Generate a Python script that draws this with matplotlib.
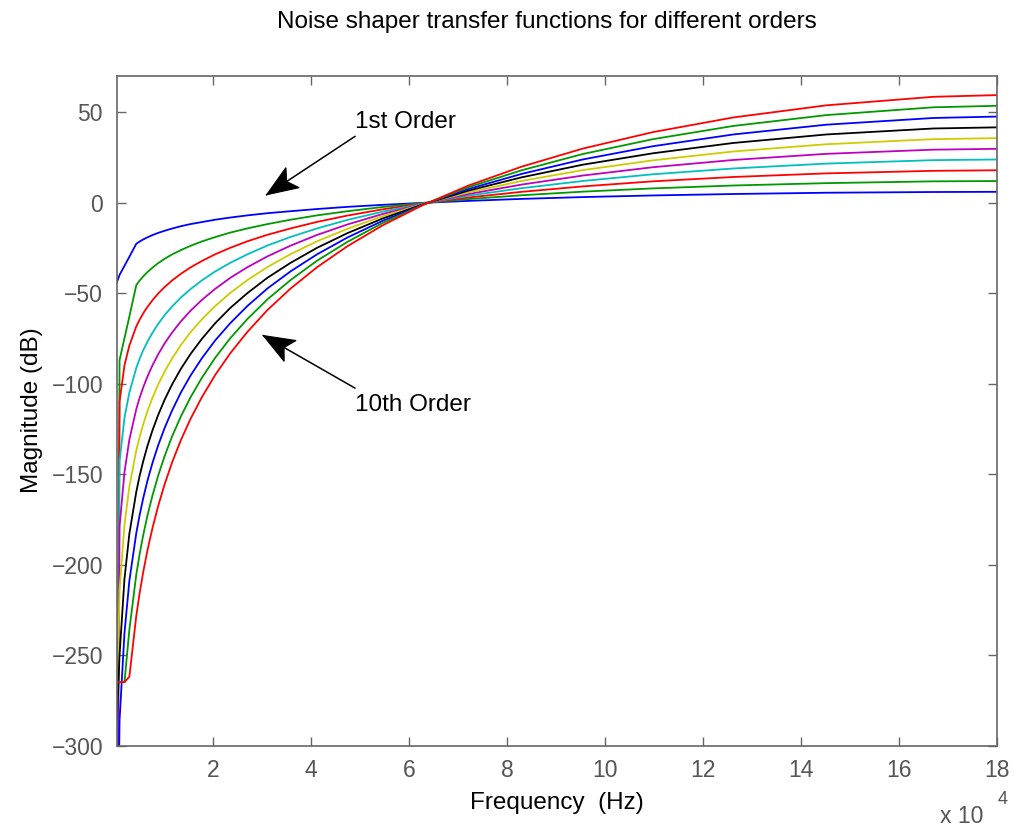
import matplotlib
matplotlib.use('Agg')
import matplotlib.pyplot as plt
from matplotlib.patches import Polygon
import numpy as np

plt.rcParams['font.family'] = ['Liberation Sans', 'DejaVu Sans']

# frequency points, in units of 1e4 Hz
freq = [0.047, 0.10, 0.20, 0.30, 0.441, 0.507, 0.583, 0.671, 0.771, 0.887, 1.02,
        1.17, 1.35, 1.55, 1.78, 2.05, 2.36, 2.71, 3.12, 3.59, 4.13, 4.75, 5.46,
        6.28, 7.22, 8.30, 9.55, 10.98, 12.62, 14.52, 16.70, 19.2]

# magnitude (dB) for each noise shaper order
order1 = [-44, -40, -35, -30, -22.8, -21.6, -20.4, -19.2, -18.0, -16.8, -15.6, -14.4,
          -13.1, -11.9, -10.8, -9.5, -8.3, -7.1, -5.9, -4.8, -3.6, -2.4, -1.3, -0.2,
          0.9, 2.0, 3.0, 3.9, 4.7, 5.4, 5.8, 6.0]
order2 = [-400, -87, -75, -63, -45.7, -43.2, -40.8, -38.4, -36.0, -33.5, -31.1, -28.7,
          -26.3, -23.9, -21.5, -19.1, -16.6, -14.3, -11.9, -9.5, -7.1, -4.8, -2.5, -0.3,
          1.9, 4.0, 6.0, 7.8, 9.4, 10.7, 11.7, 12.0]
order3 = [-400, -110, -90, -79, -68.5, -64.9, -61.2, -57.6, -54.0, -50.3, -46.7, -43.1,
          -39.4, -35.8, -32.3, -28.6, -25.0, -21.4, -17.8, -14.3, -10.7, -7.2, -3.8, -0.5,
          2.8, 5.9, 8.9, 11.7, 14.1, 16.1, 17.5, 18.1]
order4 = [-400, -143, -119, -105, -91.4, -86.5, -81.6, -76.8, -72.0, -67.1, -62.2, -57.5,
          -52.5, -47.8, -43.0, -38.1, -33.3, -28.6, -23.7, -19.0, -14.3, -9.6, -5.1, -0.6,
          3.8, 7.9, 11.9, 15.6, 18.8, 21.5, 23.4, 24.1]
order5 = [-400, -179, -149, -131, -114.2, -108.1, -102.1, -96.0, -90.0, -83.9, -77.8, -71.9,
          -65.7, -59.7, -53.8, -47.7, -41.6, -35.7, -29.7, -23.8, -17.9, -12.1, -6.4, -0.8,
          4.7, 9.9, 14.9, 19.5, 23.5, 26.9, 29.2, 30.1]
order6 = [-280, -214, -178, -157, -137.0, -129.7, -122.5, -115.1, -107.9, -100.6, -93.4, -86.2,
          -78.8, -71.6, -64.5, -57.2, -49.9, -42.8, -35.6, -28.5, -21.4, -14.5, -7.6, -0.9,
          5.6, 11.9, 17.9, 23.3, 28.2, 32.2, 35.0, 36.1]
order7 = [-285, -250, -208, -183, -159.9, -151.3, -142.9, -134.3, -125.9, -117.4, -108.9, -100.6,
          -91.9, -83.6, -75.3, -66.7, -58.2, -50.0, -41.5, -33.3, -25.0, -16.9, -8.9, -1.1,
          6.6, 13.9, 20.9, 27.2, 32.9, 37.6, 40.9, 42.1]
order8 = [-400, -286, -238, -209, -182.7, -173.0, -163.3, -153.5, -143.9, -134.2, -124.5, -115.0,
          -105.0, -95.5, -86.0, -76.2, -66.6, -57.1, -47.4, -38.0, -28.6, -19.3, -10.2, -1.2,
          7.5, 15.8, 23.8, 31.1, 37.6, 43.0, 46.7, 48.2]
order9 = [-265, -265, -265, -236, -205.6, -194.6, -183.7, -172.7, -161.9, -150.9, -140.0, -129.3,
          -118.2, -107.5, -96.8, -85.8, -74.9, -64.3, -53.4, -42.8, -32.1, -21.7, -11.4, -1.4,
          8.5, 17.8, 26.8, 35.0, 42.3, 48.3, 52.6, 54.2]
order10 = [-265, -265, -265, -262, -228.4, -216.2, -204.1, -191.9, -179.9, -167.7, -155.6, -143.7,
           -131.3, -119.4, -107.5, -95.3, -83.2, -71.4, -59.3, -47.5, -35.7, -24.1, -12.7, -1.5,
           9.4, 19.8, 29.8, 38.9, 47.0, 53.7, 58.4, 60.2]

orders = [order1, order2, order3, order4, order5, order6, order7, order8, order9, order10]

# MATLAB default colour order, cycled
colors = [(0, 0, 1), (0, 0.6, 0), (1, 0, 0), (0, 0.75, 0.75), (0.75, 0, 0.75),
          (0.8, 0.8, 0), (0, 0, 0)]

fig = plt.figure(figsize=(10.17, 8.33), dpi=100)
ax = fig.add_axes([0.115, 0.105, 0.8655, 0.804])

for i, mag in enumerate(orders):
    ax.plot(freq, mag, color=colors[i % len(colors)], lw=1.3)

ax.set_xlim(0.047, 18)
ax.set_ylim(-300, 70)
ax.set_xticks([2, 4, 6, 8, 10, 12, 14, 16, 18])
ax.set_yticks([-300, -250, -200, -150, -100, -50, 0, 50])

grey = '#666666'
for s in ax.spines.values():
    s.set_color(grey)
    s.set_linewidth(1.2)
ax.tick_params(direction='in', length=6.5, width=1, color=grey, labelcolor='#555555',
               labelsize=16.5, top=True, right=True, pad=10)

ax.set_xlabel('Frequency  (Hz)', fontsize=17.5, labelpad=7)
ax.set_ylabel('Magnitude (dB)', fontsize=17.5, labelpad=6)
fig.text(0.538, 0.974, 'Noise shaper transfer functions for different orders',
         fontsize=17.5, ha='center', va='center')
fig.text(0.924, 0.006, 'x 10', fontsize=16.5, color='#555555', ha='left', va='bottom')
fig.text(0.981, 0.03, '4', fontsize=13, color='#555555', ha='left', va='bottom')


def arrow(tip, tail):
    # shaft plus a notched head, sized in pixels
    p_tip = ax.transData.transform(tip)
    p_tail = ax.transData.transform(tail)
    u = (p_tip - p_tail) / np.hypot(*(p_tip - p_tail))
    n = np.array([-u[1], u[0]])
    L, W, notch = 31, 12, 7
    base = p_tip - L * u
    head = [p_tip, base + W * n, base + notch * u, base - W * n]
    ax.plot([tail[0], tip[0]], [tail[1], tip[1]], color='k', lw=1.1)
    fig.patches.append(Polygon(head, closed=True, facecolor='k', edgecolor='k', lw=0.8,
                               transform=None, figure=fig))


fig.canvas.draw()
arrow((3.1, 4.3), (4.9, 36.5))
ax.text(4.9, 44.6, '1st Order', fontsize=17.5, ha='left', va='center')
arrow((3.03, -73.5), (4.9, -102.5))
ax.text(4.9, -112, '10th Order', fontsize=17.5, ha='left', va='center')

fig.savefig('out.png', dpi=100)
